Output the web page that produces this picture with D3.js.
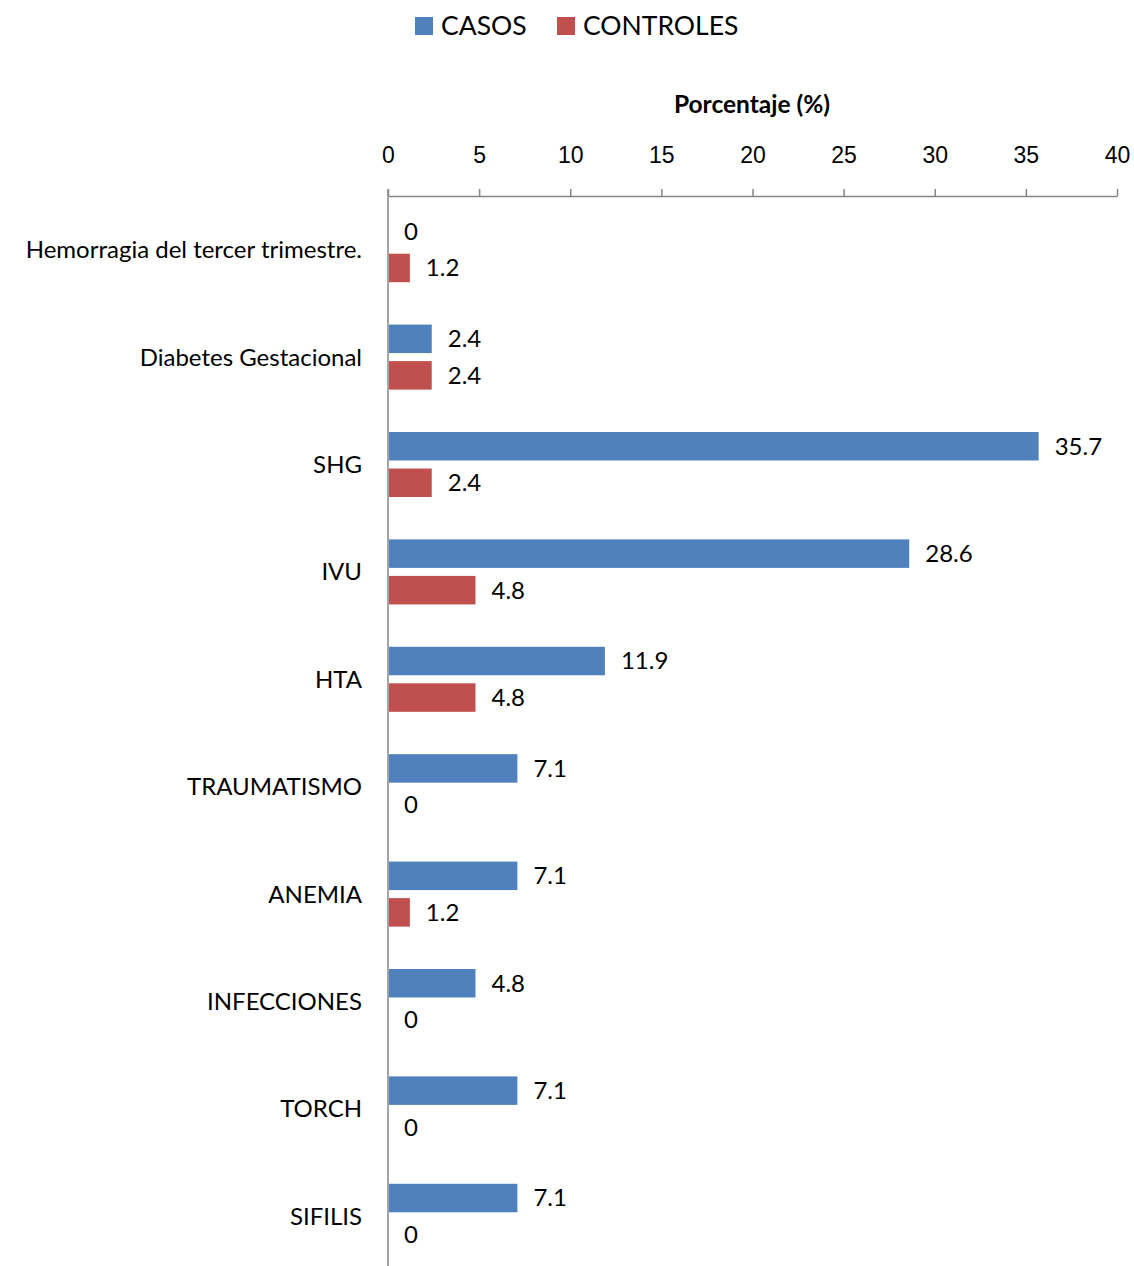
<!DOCTYPE html>
<html>
<head>
<meta charset="utf-8">
<script src="https://cdn.jsdelivr.net/npm/d3@7"></script>
<style>
  body { margin: 0; background: #fff; }
  svg { display: block; font-family: Lato, "Open Sans", sans-serif; }
</style>
</head>
<body>
<svg width="1134" height="1266"></svg>
<script>
var categories = ["Hemorragia del tercer trimestre.", "Diabetes Gestacional", "SHG", "IVU", "HTA",
                  "TRAUMATISMO", "ANEMIA", "INFECCIONES", "TORCH", "SIFILIS"];
var casos =     [0, 2.4, 35.7, 28.6, 11.9, 7.1, 7.1, 4.8, 7.1, 7.1];
var controles = [1.2, 2.4, 2.4, 4.8, 4.8, 0, 1.2, 0, 0, 0];
var seriesNames = ["CASOS", "CONTROLES"];
var seriesColors = ["#4F81BD", "#C0504D"];
var xTicks = [0, 5, 10, 15, 20, 25, 30, 35, 40];

var svg = d3.select("svg");

var x = d3.scaleLinear().domain([0, 40]).range([388, 1117]);
var y = d3.scaleBand().domain(categories).range([196, 1270]);
var y1 = d3.scaleBand().domain(seriesNames).range([0, y.bandwidth()])
    .paddingInner(0.22).paddingOuter(0.58);

var color = d3.scaleOrdinal().domain(seriesNames).range(seriesColors);

var rows = categories.map(function(c, i) {
  return {cat: c, vals: [
    {key: "CASOS", value: casos[i]},
    {key: "CONTROLES", value: controles[i]}
  ]};
});

// top axis
var xAxis = svg.append("g")
    .attr("transform", "translate(0,196)")
    .call(d3.axisTop(x).tickValues(xTicks).tickSize(7).tickSizeOuter(0).tickPadding(24));
xAxis.select(".domain").attr("stroke", "#868686").attr("stroke-width", 1.5);
xAxis.selectAll(".tick line").attr("stroke", "#868686").attr("stroke-width", 1.5);
xAxis.selectAll(".tick text")
    .attr("fill", "#000")
    .style("font-size", "23px")
    .attr("dy", "0.35em")
    .attr("y", -41);

// left axis line
svg.append("line")
    .attr("x1", x(0)).attr("x2", x(0))
    .attr("y1", 189).attr("y2", 1270)
    .attr("stroke", "#868686").attr("stroke-width", 1.5);

// axis title
svg.append("text")
    .attr("x", 752).attr("y", 104)
    .attr("text-anchor", "middle")
    .attr("dy", "0.35em")
    .style("font-size", "24.5px")
    .style("font-weight", "bold")
    .text("Porcentaje (%)");

// category labels
svg.append("g").selectAll("text")
  .data(categories)
  .enter().append("text")
    .attr("x", 362)
    .attr("y", function(d) { return y(d) + y.bandwidth() / 2; })
    .attr("dy", "0.35em")
    .attr("text-anchor", "end")
    .style("font-size", "24px")
    .text(function(d) { return d; });

// bars
var grp = svg.append("g").selectAll("g")
  .data(rows)
  .enter().append("g")
    .attr("transform", function(d) { return "translate(0," + y(d.cat) + ")"; });

grp.selectAll("rect")
  .data(function(d) { return d.vals; })
  .enter().append("rect")
    .attr("x", x(0) + 1)
    .attr("y", function(d) { return y1(d.key); })
    .attr("width", function(d) { return Math.max(0, x(d.value) - x(0) - 1); })
    .attr("height", y1.bandwidth())
    .attr("fill", function(d) { return color(d.key); });

grp.selectAll("text")
  .data(function(d) { return d.vals; })
  .enter().append("text")
    .attr("x", function(d) { return x(d.value) + 16; })
    .attr("y", function(d) { return y1(d.key) + y1.bandwidth() / 2; })
    .attr("dy", "0.35em")
    .style("font-size", "24px")
    .text(function(d) { return d.value; });

// legend
var legend = svg.append("g").selectAll("g")
  .data(seriesNames)
  .enter().append("g")
    .attr("transform", function(d, i) { return "translate(" + [415, 557][i] + ",0)"; });

legend.append("rect")
    .attr("x", 0).attr("y", 17)
    .attr("width", 18).attr("height", 18)
    .attr("fill", function(d) { return color(d); });

legend.append("text")
    .attr("x", 26).attr("y", 26)
    .attr("dy", "0.35em")
    .style("font-size", "26.5px")
    .text(function(d) { return d; });
</script>
</body>
</html>
